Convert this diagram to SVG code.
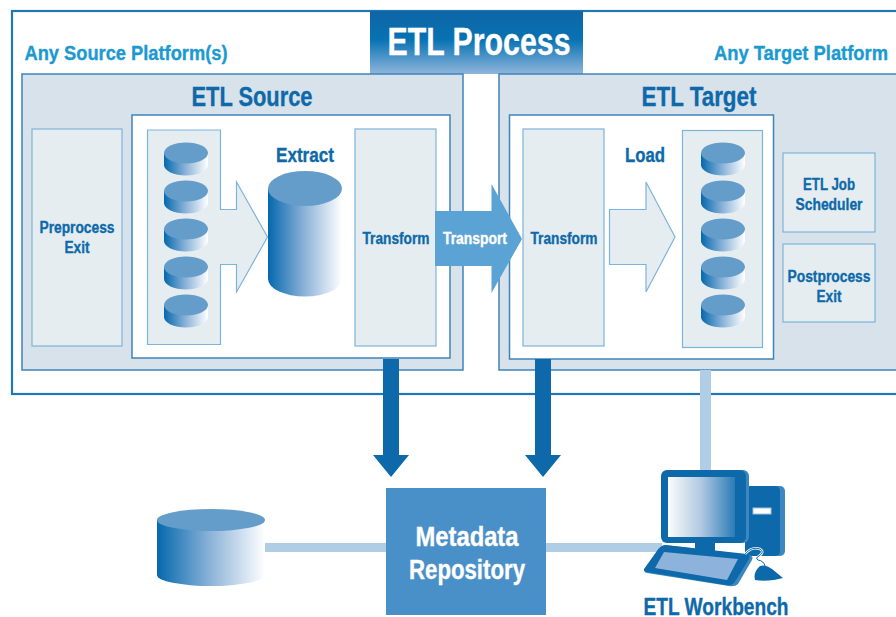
<svg xmlns="http://www.w3.org/2000/svg" width="896" height="617" viewBox="0 0 896 617">
<style>
text{font-family:"Liberation Sans Narrow","Liberation Sans",Arial,sans-serif;font-weight:700;text-anchor:middle;stroke-width:.35;paint-order:stroke}
.d{fill:#0d69a9;stroke:#0d69a9}.w{fill:#fff;stroke:#fff}.c{fill:#1a9ad0;stroke:#1a9ad0}
.panel{fill:#d8e2eb;stroke:#3c84bb;stroke-width:1.5}
.inner{fill:#fff;stroke:#3c84bb;stroke-width:1.5}
.box{fill:#e6edf1;stroke:#7db4db;stroke-width:1.2}
.top{fill:#659dca}
.lnk{fill:#afcde5}.dark{fill:#0d69a9}
</style>
<defs>
<linearGradient id="cy" x1="0" x2="1" y1="0" y2="0"><stop offset="0" stop-color="#0568ad"/><stop offset=".5" stop-color="#8db4d9"/><stop offset="1" stop-color="#fff"/></linearGradient>
<linearGradient id="tt" x1="0" x2="0" y1="0" y2="1"><stop offset="0" stop-color="#0f65a5"/><stop offset=".45" stop-color="#0772b2"/><stop offset="1" stop-color="#8fb5dc"/></linearGradient>
<linearGradient id="sc" x1="0" x2="1" y1="0" y2="0"><stop offset="0" stop-color="#fbfcfd"/><stop offset=".5" stop-color="#afc8e0"/><stop offset="1" stop-color="#2b7cb6"/></linearGradient>
<symbol id="s" overflow="visible"><path d="M-22 0V12A22 10.500 0 0 0 22 12V0Z" fill="url(#cy)"/><ellipse rx="22" ry="10.500" class="top"/></symbol>
</defs>
<rect x="12" y="11" width="895" height="383" fill="#fff" stroke="#1f78b4" stroke-width="2.200"/>
<g id="source-label"><text x="126" y="60" font-size="20" class="c" textLength="203" lengthAdjust="spacingAndGlyphs">Any Source Platform(s)</text></g>
<g id="target-label"><text x="801" y="60" font-size="20" class="c" textLength="174" lengthAdjust="spacingAndGlyphs">Any Target Platform</text></g>
<g id="etl-process"><rect x="370" y="11" width="213" height="63" fill="url(#tt)"/><text x="479" y="55" font-size="38" class="w" textLength="183" lengthAdjust="spacingAndGlyphs">ETL Process</text></g>
<g id="etl-source">
<rect x="22" y="74" width="441" height="296" class="panel"/>
<text x="252" y="106" font-size="27" class="d" textLength="121" lengthAdjust="spacingAndGlyphs">ETL Source</text>
<rect x="132" y="115" width="318" height="243" class="inner"/>
</g>
<g id="preprocess"><rect x="32" y="129" width="90" height="217" class="box"/><text x="77" y="233" font-size="16" class="d" textLength="75" lengthAdjust="spacingAndGlyphs">Preprocess</text><text x="77" y="253" font-size="16" class="d" textLength="25" lengthAdjust="spacingAndGlyphs">Exit</text></g>
<g id="source-stack">
<path d="M147.500 130H220.500V209.500H236.500V182L267.500 237L236.500 292V264.500H220.500V344.500H147.500Z" class="box"/>
<use href="#s" x="186" y="153"/><use href="#s" x="186" y="191"/><use href="#s" x="186" y="229"/><use href="#s" x="186" y="267"/><use href="#s" x="186" y="305"/>
</g>
<g id="extract"><text x="305" y="162" font-size="20" class="d" textLength="58" lengthAdjust="spacingAndGlyphs">Extract</text>
<path d="M268 188.500V279A37 17.500 0 0 0 342 279V188.500Z" fill="url(#cy)"/><ellipse cx="305" cy="188.500" rx="37" ry="17.500" class="top"/></g>
<g id="source-transform"><rect x="355" y="129" width="81" height="217" class="box"/><text x="396" y="244" font-size="16" class="d" textLength="67" lengthAdjust="spacingAndGlyphs">Transform</text></g>
<g id="etl-target">
<rect x="499" y="74" width="410" height="296" class="panel"/>
<text x="699" y="106" font-size="27" class="d" textLength="115" lengthAdjust="spacingAndGlyphs">ETL Target</text>
<rect x="509.500" y="115" width="264" height="244" class="inner"/>
</g>
<g id="target-transform"><rect x="523" y="129" width="81" height="217" class="box"/><text x="564" y="244" font-size="16" class="d" textLength="67" lengthAdjust="spacingAndGlyphs">Transform</text></g>
<g id="load"><text x="645" y="162" font-size="20" class="d" textLength="40" lengthAdjust="spacingAndGlyphs">Load</text><path d="M609.500 209.500H646V182L675 237L646 292V264.500H609.500Z" class="box"/></g>
<g id="target-stack"><rect x="682.500" y="130.500" width="80" height="217" class="box"/>
<use href="#s" x="723" y="153"/><use href="#s" x="723" y="191"/><use href="#s" x="723" y="229"/><use href="#s" x="723" y="267"/><use href="#s" x="723" y="305"/></g>
<g id="scheduler"><rect x="783" y="153" width="92" height="79" class="box"/><text x="829" y="190" font-size="16" class="d" textLength="52" lengthAdjust="spacingAndGlyphs">ETL Job</text><text x="829" y="210" font-size="16" class="d" textLength="67" lengthAdjust="spacingAndGlyphs">Scheduler</text></g>
<g id="postprocess"><rect x="783" y="244" width="92" height="78" class="box"/><text x="829" y="282" font-size="16" class="d" textLength="83" lengthAdjust="spacingAndGlyphs">Postprocess</text><text x="829" y="302" font-size="16" class="d" textLength="25" lengthAdjust="spacingAndGlyphs">Exit</text></g>
<g id="connectors">
<path d="M435 211H491.500V184L522 239L491.500 293V266H435Z" fill="#5ba3d5"/>
<rect x="700" y="370" width="11" height="101" class="lnk"/>
<rect x="264" y="543" width="122" height="9" class="lnk"/>
<rect x="546" y="543" width="116" height="9" class="lnk"/>
<path d="M383 359H399V455H409L391 477L373 455H383Z" class="dark"/>
<path d="M535 359H551V455H561L543 477L525 455H535Z" class="dark"/>
</g>
<text x="475" y="244" font-size="16" class="w" textLength="64" lengthAdjust="spacingAndGlyphs">Transport</text>
<g id="repository-db"><path d="M157 520V575A54 11 0 0 0 265 575V520Z" fill="url(#cy)"/><ellipse cx="211" cy="520" rx="54" ry="11" class="top"/></g>
<g id="metadata"><rect x="386" y="488" width="160" height="127" fill="#4a90c8"/><text x="467" y="546" font-size="27" class="w" textLength="103" lengthAdjust="spacingAndGlyphs">Metadata</text><text x="467" y="579" font-size="27" class="w" textLength="116" lengthAdjust="spacingAndGlyphs">Repository</text></g>
<g id="workbench">
<rect x="755" y="486" width="30" height="70" rx="5" fill="#3c87c0"/>
<rect x="745" y="486" width="35" height="70" rx="5" class="dark"/>
<rect x="753" y="508" width="18" height="6" fill="#fff" stroke="#9fc0de"/>
<rect x="664" y="470" width="85" height="73" rx="6" fill="#3c87c0"/>
<rect x="661" y="470" width="85" height="73" rx="6" class="dark"/>
<rect x="668" y="477" width="67" height="60" fill="url(#sc)"/>
<rect x="695" y="543" width="20" height="8" class="dark"/>
<path d="M665 545Q660 546 657 551L645 569Q643 572 647 573L729 586Q735 587 738 584L752 560Q754 556 749 555Z" fill="#3c87c0"/>
<path d="M665 545Q660 546 657 551L644 569Q643 571 647 572L726 585Q731 586 734 583L749 559Q751 556 747 554Z" class="dark"/>
<path d="M664 552L655 568L727 580L738 559Z" fill="#8db3dc"/>
<path d="M745 554Q752 546 760 549Q765 552 759 556Q755 558 758 560Q764 561 765 566" fill="none" stroke="#fff" stroke-width="2.500"/>
<path d="M745 554Q752 546 760 549Q765 552 759 556Q755 558 758 560Q764 561 765 566" fill="none" stroke="#0d69a9" stroke-width="1"/>
<path d="M755 580Q753 572 760 566Q766 564 772 569L783 578Q770 582 755 580Z" class="dark"/>
<text x="716" y="615" font-size="23" class="d" textLength="145" lengthAdjust="spacingAndGlyphs">ETL Workbench</text>
</g>
</svg>
